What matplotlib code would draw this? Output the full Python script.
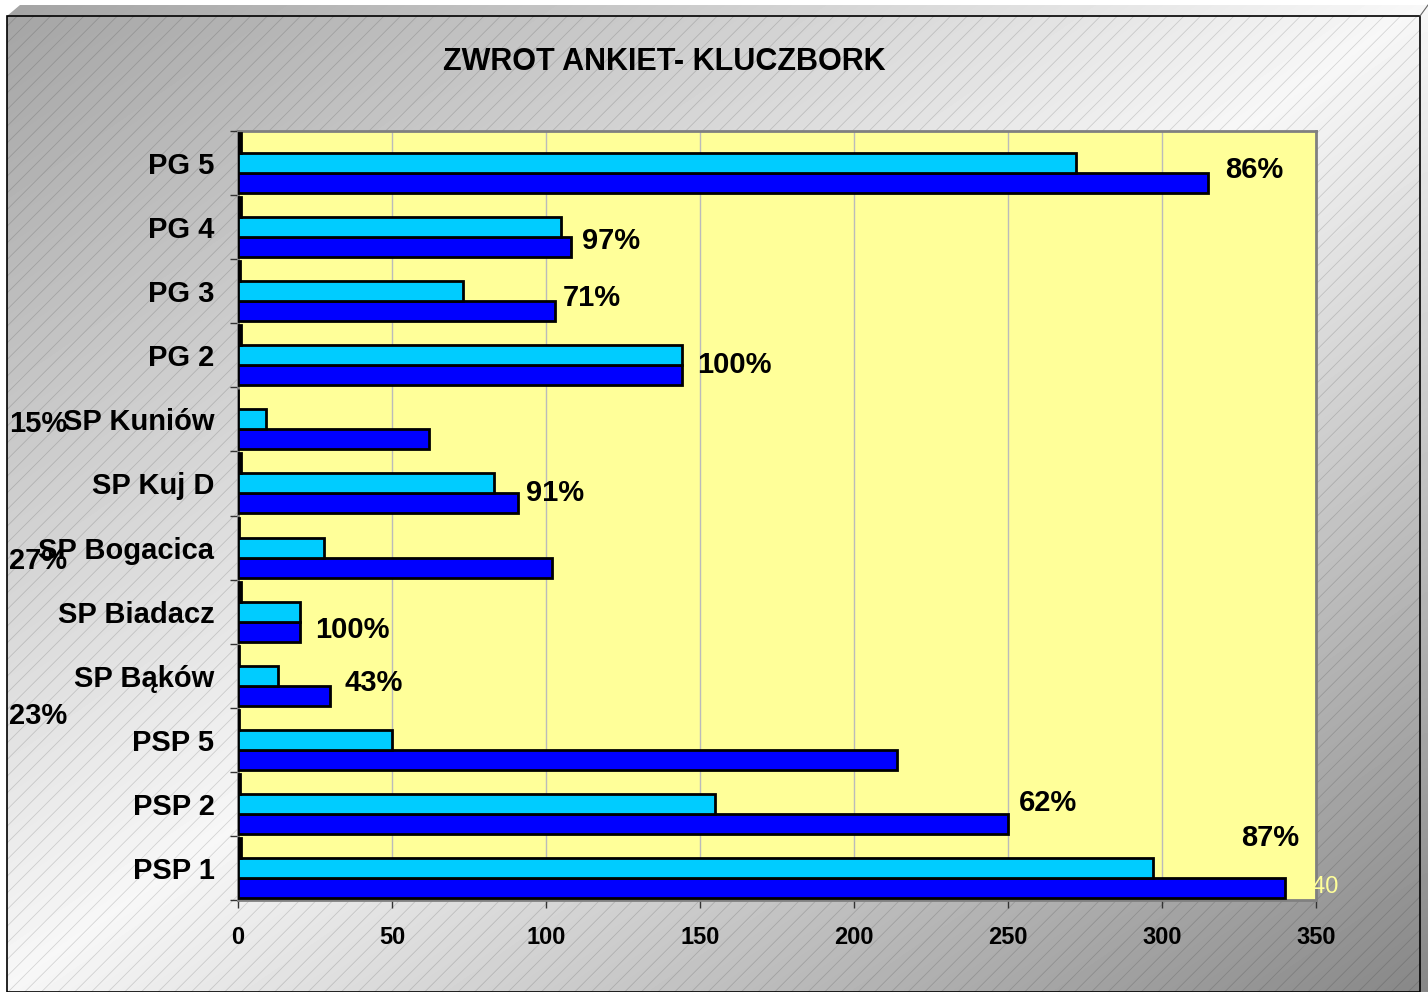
import matplotlib
import matplotlib.pyplot as plt
import numpy as np
from matplotlib.patches import Polygon, Rectangle

matplotlib.use("Agg")

plt.rcParams["font.family"] = ["Liberation Sans", "DejaVu Sans"]
plt.rcParams["font.weight"] = "bold"
plt.rcParams["hatch.linewidth"] = 0.6

# data (bottom to top, as in the source chart)
categories = ["PSP 1", "PSP 2", "PSP 5", "SP Bąków", "SP Biadacz", "SP Bogacica",
              "SP Kuj D", "SP Kuniów", "PG 2", "PG 3", "PG 4", "PG 5"]
total = [340, 250, 214, 30, 20, 102, 91, 62, 144, 103, 108, 315]
returned = [297, 155, 50, 13, 20, 28, 83, 9, 144, 73, 105, 272]
ratio = [0.87, 0.62, 0.23, 0.43, 1.00, 0.27, 0.91, 0.15, 1.00, 0.71, 0.97, 0.86]
ratio_text = ["87%", "62%", "23%", "43%", "100%", "27%", "91%", "15%", "100%", "71%", "97%", "86%"]
# where the percentage labels sit (data units), as placed in the original
label_x = [335, 263, -65, 44, 37, -65, 103, -65, 161, 115, 121, 330]
label_y = [0.47, 1.01, 2.37, 2.89, 3.71, 4.79, 5.85, 6.93, 7.85, 8.89, 9.78, 10.89]

W, H = 1428, 992
fig = plt.figure(figsize=(W / 100, H / 100), dpi=100)
fig.patch.set_facecolor("white")

# background box with diagonal gradient + hatch
bg = fig.add_axes([0, 0, 1, 1], zorder=0)
bg.set_xlim(0, W)
bg.set_ylim(H, 0)
bg.axis("off")
yy, xx = np.mgrid[0:1:200j, 0:1:300j]
d = xx + yy - 1.0
grad = np.where(d < 0, 0.97 + 0.33 * d, 0.97 - 0.44 * d)
img = bg.imshow(grad, cmap="gray", vmin=0, vmax=1, extent=(0, W, H, 0),
                interpolation="bilinear", aspect="auto", zorder=0)
box = Polygon([(7, 16), (20, 5), (1428, 5), (1428, H), (7, H)], closed=True,
              facecolor="none", edgecolor="none", transform=bg.transData)
bg.add_patch(box)
img.set_clip_path(box)
bg.add_patch(Rectangle((7, 16), 1413, H - 16, facecolor="none",
                       edgecolor=(0, 0, 0, 0.14), hatch="//", linewidth=0, zorder=1))
bg.add_patch(Rectangle((7, 16), 1413, H - 16, facecolor="none",
                       edgecolor="black", linewidth=1.2, zorder=2))
bg.plot([1420, 1428], [16, 5], color="#666666", lw=0.8, zorder=2)

ax = fig.add_axes([238 / W, 1 - 900 / H, (1316 - 238) / W, (900 - 131) / H], zorder=1)
ax.set_facecolor("#FFFF99")

y = np.arange(len(categories))
h = 0.312
ax.barh(y - h, total, height=h, color="#0000FF", edgecolor="black", linewidth=2, zorder=3)
ax.barh(y, returned, height=h, color="#00CCFF", edgecolor="black", linewidth=2, zorder=3)
ax.barh(y + h, ratio, height=h, color="black", edgecolor="black", linewidth=2, zorder=3)

for tx, ty, t in zip(label_x, label_y, ratio_text):
    ax.text(tx, ty, t, ha="center", va="center", fontsize=21, fontweight="bold",
            clip_on=False, zorder=5)
ax.text(351, -0.3, str(total[0]), ha="center", va="center", fontsize=17,
        fontweight="normal", color="#FFFF99", clip_on=False, zorder=5)

ax.set_xlim(0, 350)
ax.set_ylim(-0.5, len(categories) - 0.5)
ax.set_xticks(np.arange(0, 351, 50))
ax.set_yticks(y)
ax.set_yticklabels(categories)
ax.set_yticks(np.arange(-0.5, len(categories), 1), minor=True)
ax.tick_params(axis="y", which="major", length=0, pad=17, labelsize=21)
ax.tick_params(axis="y", which="minor", length=6, width=1, color="#333333")
ax.tick_params(axis="x", length=6, width=1, color="#333333", pad=13, labelsize=17)
ax.grid(axis="x", color="#BBBBBB", linewidth=1, zorder=0)
ax.set_axisbelow(True)
for s in ax.spines.values():
    s.set_color("#808080")
    s.set_linewidth(2)

fig.text(664 / W, 1 - 62 / H, "ZWROT ANKIET- KLUCZBORK", ha="center", va="center",
         fontsize=22, fontweight="bold")

fig.savefig("out.png", dpi=100)
plt.close(fig)
